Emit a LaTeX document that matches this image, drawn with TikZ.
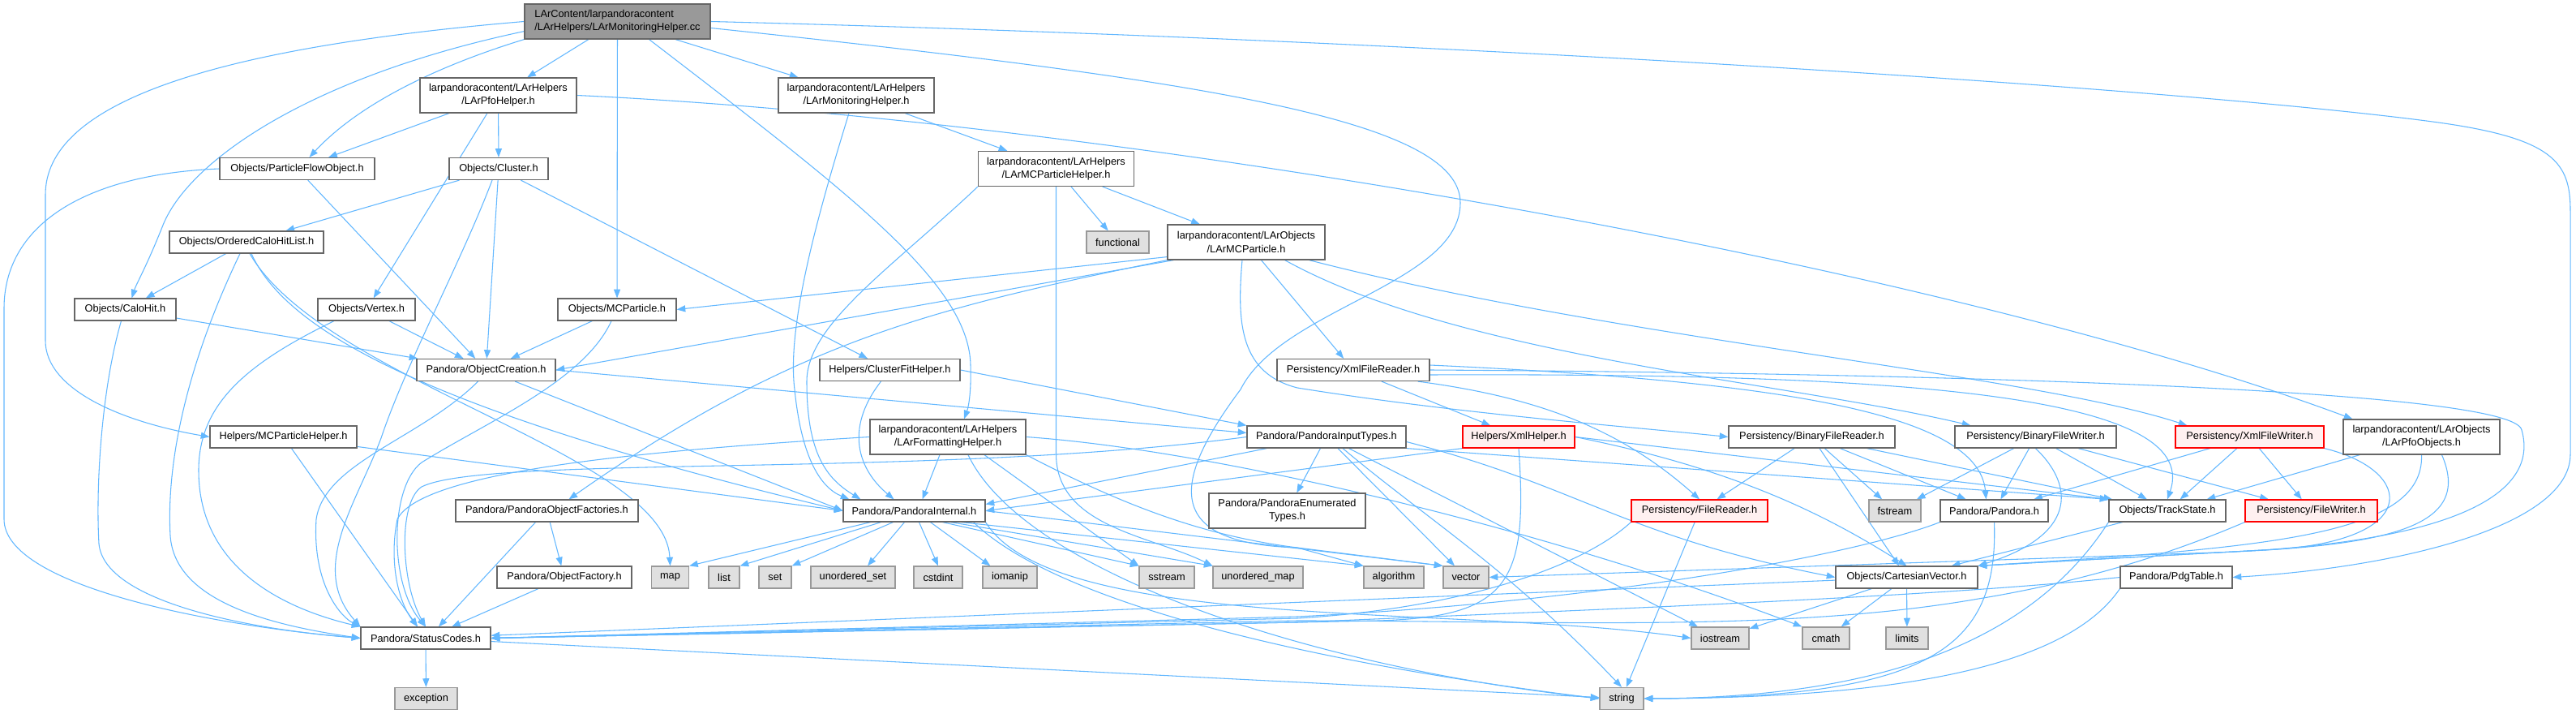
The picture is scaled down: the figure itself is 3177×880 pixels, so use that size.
\documentclass[tikz,border=0pt]{standalone}
\usepackage{fontspec}
\setmainfont{Liberation Sans}
\usetikzlibrary{arrows.meta,calc}
\definecolor{edgec}{HTML}{63B8FF}
\definecolor{nodeb}{HTML}{666666}
\definecolor{extb}{HTML}{999999}
\definecolor{extf}{HTML}{E0E0E0}
\definecolor{mainf}{HTML}{999999}
\definecolor{redb}{HTML}{FF0000}
\definecolor{redf}{HTML}{FFF0F0}
\pgfdeclarelayer{bg}
\pgfsetlayers{bg,main}
\newcommand\nfont{\fontsize{9.6}{12.2}\selectfont}
\tikzset{
 bx/.style={draw=nodeb, fill=white, line width=0.9pt, minimum height=20.25pt, minimum width=#1*0.75pt, inner sep=1pt, font=\nfont},
 bx2/.style={bx=#1, minimum height=32.25pt, align=center},
 ex/.style={bx=#1, draw=extb, fill=extf},
 rd/.style={bx=#1, draw=redb, fill=redf},
 lnk/.style={draw=edgec, line width=0.8pt, -{Triangle[length=8pt,width=6pt]}},
}
\begin{document}
\begin{tikzpicture}[x=0.75pt,y=-0.75pt]
\useasboundingbox (0,0) rectangle (3177,880);
% rank 0-1
\node[bx2=229, fill=mainf, align=left] (src) at (761.5,26.5) {LArContent/larpandoracontent\\/LArHelpers/LArMonitoringHelper.cc};
\node[bx2=193] (pfoh) at (614.5,117.5) {larpandoracontent/LArHelpers\\/LArPfoHelper.h};
\node[bx2=192] (monh) at (1056,117.5) {larpandoracontent/LArHelpers\\/LArMonitoringHelper.h};
% rank 2
\node[bx=191] (pfo) at (366.5,208) {Objects/ParticleFlowObject.h};
\node[bx=122] (clus) at (615,208) {Objects/Cluster.h};
\node[bx2=192] (mcph) at (1302.5,208) {larpandoracontent/LArHelpers\\/LArMCParticleHelper.h};
% rank 3
\node[bx=190] (ochl) at (304,298.5) {Objects/OrderedCaloHitList.h};
\node[ex=77] (func) at (1378.5,298.5) {functional};
\node[bx2=194] (larmc) at (1537,298.5) {larpandoracontent/LArObjects\\/LArMCParticle.h};
% rank 4
\node[bx=125] (calo) at (154.5,381.5) {Objects/CaloHit.h};
\node[bx=120] (vtx) at (452,381.5) {Objects/Vertex.h};
\node[bx=146] (mcp) at (761,381.5) {Objects/MCParticle.h};
% rank 5
\node[bx=171] (objc) at (599.5,456) {Pandora/ObjectCreation.h};
\node[bx=173] (cfh) at (1097.5,456) {Helpers/ClusterFitHelper.h};
\node[bx=188] (xfr) at (1669,456) {Persistency/XmlFileReader.h};
% rank 6
\node[bx=181] (mchelp) at (349.5,538.5) {Helpers/MCParticleHelper.h};
\node[bx2=192] (fmt) at (1169,538.5) {larpandoracontent/LArHelpers\\/LArFormattingHelper.h};
\node[bx=196] (pit) at (1636,538.5) {Pandora/PandoraInputTypes.h};
\node[rd=138] (xmlh) at (1873,538.5) {Helpers/XmlHelper.h};
\node[bx=205] (bfr) at (2234.5,538.5) {Persistency/BinaryFileReader.h};
\node[bx=199] (bfw) at (2510.5,538.5) {Persistency/BinaryFileWriter.h};
\node[rd=183] (xfw) at (2774.5,538.5) {Persistency/XmlFileWriter.h};
\node[bx2=193] (pfoobj) at (2986.5,538.5) {larpandoracontent/LArObjects\\/LArPfoObjects.h};
% rank 7
\node[bx=225] (pof) at (674.5,629.5) {Pandora/PandoraObjectFactories.h};
\node[bx=175] (pint) at (1127.5,629.5) {Pandora/PandoraInternal.h};
\node[bx2=193] (pet) at (1587.5,629.5) {Pandora/PandoraEnumerated\\Types.h};
\node[rd=168] (fr) at (2096,629.5) {Persistency/FileReader.h};
\node[ex=64] (fstr) at (2337,629.5) {fstream};
\node[bx=133] (pandora) at (2459.5,629.5) {Pandora/Pandora.h};
\node[bx=144] (ts) at (2673,629.5) {Objects/TrackState.h};
\node[rd=163] (fw) at (2850.5,629.5) {Persistency/FileWriter.h};
% rank 8
\node[bx=166] (of) at (696,711.5) {Pandora/ObjectFactory.h};
\node[ex=46] (nmap) at (826.5,711.5) {map};
\node[ex=38] (nlist) at (893,711.5) {list};
\node[ex=40] (nset) at (956,711.5) {set};
\node[ex=104] (uset) at (1052,711.5) {unordered\_set};
\node[ex=60] (cstd) at (1157,711.5) {cstdint};
\node[ex=67] (iom) at (1245.5,711.5) {iomanip};
\node[ex=68] (sstr) at (1439,711.5) {sstream};
\node[ex=111] (umap) at (1551.5,711.5) {unordered\_map};
\node[ex=74] (algo) at (1719,711.5) {algorithm};
\node[ex=56] (vect) at (1808,711.5) {vector};
\node[bx=175] (cv) at (2351.5,711.5) {Objects/CartesianVector.h};
\node[bx=138] (pdg) at (2684,711.5) {Pandora/PdgTable.h};
% rank 9-10
\node[bx=160] (sc) at (525,786.5) {Pandora/StatusCodes.h};
\node[ex=71] (iost) at (2121.5,786.5) {iostream};
\node[ex=58] (cmth) at (2252,786.5) {cmath};
\node[ex=52] (lim) at (2352,786.5) {limits};
\node[ex=77] (exc) at (525.5,861) {exception};
\node[ex=54] (strg) at (2000,861) {string};

\begin{pgfonlayer}{bg}
\fill[white] (0,0) rectangle (3177,880);
% main source
\draw[lnk] (src) -- (monh);
\draw[lnk] (src) -- (pfoh);
\draw[lnk] (src) -- (mcp);
\draw[lnk] (src.west) .. controls (250,60) and (56,130) .. (56,240) -- (56,420) .. controls (56,480) and (150,520) .. (mchelp.west);
\draw[lnk] ($(src.south west)+(0,-10)$) .. controls (380,95) and (230,200) .. (200,280) .. controls (180,330) and (168,350) .. ($(calo.north)+(8,0)$);
\draw[lnk] (src.south west) .. controls (560,75) and (450,120) .. ($(pfo.north)+(15,0)$);
\draw[lnk] ($(src.south east)+(-76,0)$) .. controls (1050,240) and (1195,350) .. (1197,450) .. controls (1198,480) and (1195,500) .. ($(fmt.north)+(20,0)$);
\draw[lnk] (src.east) .. controls (1800,50) and (2700,110) .. (3000,150) .. controls (3150,170) and (3170,200) .. (3170,260) -- (3170,560) .. controls (3170,650) and (2950,700) .. (pdg.east);
\draw[lnk] ($(src.east)+(0,8)$) .. controls (1500,100) and (1801,150) .. (1801,250) .. controls (1801,350) and (1580,380) .. (1530,480) .. controls (1440,600) and (1440,670) .. (1600,675) -- (vect.north west);
% LArPfoHelper
\draw[lnk] (pfoh) -- (pfo);
\draw[lnk] (pfoh) -- (clus);
\draw[lnk] (pfoh) -- (vtx);
\draw[lnk] (pfoh.east) .. controls (1400,150) and (2400,330) .. ($(pfoobj.north west)+(12,0)$);
% LArMonitoringHelper.h
\draw[lnk] (monh) -- (mcph);
\draw[lnk] ($(monh.south)+(-9,0)$) .. controls (1010,260) and (970,400) .. (980,480) .. controls (988,560) and (1010,600) .. ($(pint.north west)+(8,0)$);
% ParticleFlowObject
\draw[lnk] (pfo) -- (objc);
\draw[lnk] (pfo.west) .. controls (100,215) and (5,280) .. (5,380) -- (5,640) .. controls (5,720) and (250,770) .. (sc.west);
% Cluster
\draw[lnk] (clus) -- (ochl);
\draw[lnk] (clus) -- (objc);
\draw[lnk] (clus) -- (cfh);
\draw[lnk] ($(clus.south)+(-8,0)$) .. controls (570,320) and (500,450) .. (470,540) .. controls (440,620) and (380,700) .. (sc.north west);
% LArMCParticleHelper
\draw[lnk] (mcph) -- (func);
\draw[lnk] (mcph) -- (larmc);
\draw[lnk] (mcph.south west) .. controls (1100,330) and (995,400) .. (995,470) .. controls (995,560) and (1020,590) .. ($(pint.north west)+(22,0)$);
\draw[lnk] (mcph.south) -- (1302.5,560) .. controls (1303,650) and (1420,660) .. (umap.north west);
% OrderedCaloHitList
\draw[lnk] (ochl) -- (calo);
\draw[lnk] ($(ochl.south)+(-8,0)$) .. controls (230,450) and (205,570) .. (210,660) .. controls (215,740) and (330,770) .. (sc.west);
\draw[lnk] ($(ochl.south)+(6,0)$) .. controls (350,400) and (500,500) .. (pint.west);
\draw[lnk] ($(ochl.south)+(4,0)$) .. controls (400,470) and (820,560) .. (nmap.north);
% LArMCParticle
\draw[lnk] ($(larmc.south west)+(0,-4)$) -- (mcp.east);
\draw[lnk] ($(larmc.south west)+(8,0)$) -- (objc.east);
\draw[lnk] (larmc.south west) .. controls (1150,380) and (980,420) .. ($(pof.north)+(27,0)$);
\draw[lnk] (larmc) -- (xfr);
\draw[lnk] ($(larmc.south)+(-5,0)$) .. controls (1525,400) and (1530,460) .. (1600,478) .. controls (1800,510) and (2000,525) .. (bfr.west);
\draw[lnk] ($(larmc.south east)+(-50,0)$) .. controls (1800,440) and (2200,470) .. ($(bfw.north west)+(20,0)$);
\draw[lnk] ($(larmc.south east)+(-20,0)$) .. controls (2000,420) and (2500,460) .. ($(xfw.north west)+(15,0)$);
% CaloHit, Vertex, MCParticle
\draw[lnk] (calo) -- (objc);
\draw[lnk] ($(calo.south)+(-5,0)$) .. controls (125,480) and (118,600) .. (122,670) .. controls (128,740) and (300,775) .. (sc.west);
\draw[lnk] (vtx) -- (objc);
\draw[lnk] ($(vtx.south)+(-40,0)$) .. controls (300,450) and (245,500) .. (245,580) .. controls (245,700) and (350,750) .. (sc.north west);
\draw[lnk] (mcp) -- (objc);
\draw[lnk] ($(mcp.south)+(-7,0)$) .. controls (720,470) and (600,520) .. (520,570) .. controls (480,600) and (480,720) .. (sc.north);
% ObjectCreation
\draw[lnk] (objc.east) -- ($(pit.west)+(0,-5)$);
\draw[lnk] (objc) -- (pint.west);
\draw[lnk] ($(objc.south)+(-10,0)$) .. controls (520,540) and (400,570) .. (390,640) .. controls (385,720) and (420,760) .. (sc.north west);
% ClusterFitHelper
\draw[lnk] ($(cfh.south)+(-11,0)$) .. controls (1040,530) and (1060,580) .. ($(pint.north)+(-25,0)$);
\draw[lnk] (cfh.east) -- (pit.north west);
% XmlFileReader
\draw[lnk] (xfr) -- (xmlh);
\draw[lnk] ($(xfr.south east)+(-15,0)$) .. controls (1900,490) and (2000,530) .. (fr.north);
\draw[lnk] ($(xfr.east)+(0,-6)$) .. controls (2200,470) and (2440,510) .. ($(pandora.north)+(-10,0)$);
\draw[lnk] ($(xfr.east)+(0,6)$) .. controls (2300,460) and (2720,480) .. (ts.north);
\draw[lnk] (xfr.east) .. controls (2400,460) and (3100,480) .. (3110,530) .. controls (3130,600) and (3050,660) .. (2790,678) -- (cv.north east);
% MCParticleHelper
\draw[lnk] (mchelp) -- (pint.west);
\draw[lnk] (mchelp) -- (sc);
% LArFormattingHelper
\draw[lnk] ($(fmt.south)+(-10,0)$) -- ($(pint.north)+(10,0)$);
\draw[lnk] (fmt.west) .. controls (800,555) and (520,580) .. (490,640) .. controls (480,690) and (490,740) .. ($(sc.north)+(-10,0)$);
\draw[lnk] ($(fmt.south)+(45,0)$) -- (sstr.north west);
\draw[lnk] ($(fmt.south)+(25,0)$) .. controls (1260,700) and (1600,820) .. (strg.west);
\draw[lnk] (fmt.east) .. controls (1500,555) and (1900,650) .. (cmth.north west);
\draw[lnk] (fmt.south east) .. controls (1380,620) and (1480,660) .. (1600,675) -- (algo.north west);
% PandoraInputTypes
\draw[lnk] (pit) -- (pet);
\draw[lnk] ($(pit.south west)+(25,0)$) -- ($(pint.east)+(0,-8)$);
\draw[lnk] (pit.west) .. controls (1150,590) and (600,560) .. (520,600) .. controls (490,620) and (495,720) .. (sc.north);
\draw[lnk] (pit) -- (vect);
\draw[lnk] ($(pit.south)+(20,0)$) .. controls (1760,640) and (1860,700) .. (strg.north);
\draw[lnk] (pit) -- (iost);
\draw[lnk] ($(pit.east)+(0,6)$) .. controls (1950,600) and (2000,660) .. (cv.west);
\draw[lnk] (pit.south east) -- (ts.north west);
% XmlHelper
\draw[lnk] (xmlh.south west) -- (pint.east);
\draw[lnk] (xmlh.south) .. controls (1885,720) and (1860,760) .. (1700,765) -- (sc.east);
\draw[lnk] (xmlh.east) .. controls (2150,580) and (2260,640) .. (cv.north);
\draw[lnk] (xmlh.east) -- (ts.north west);
% BinaryFileReader
\draw[lnk] (bfr) -- (fr);
\draw[lnk] (bfr) -- (fstr);
\draw[lnk] (bfr) -- (pandora);
\draw[lnk] (bfr) -- (ts);
\draw[lnk] (bfr) -- (cv);
% BinaryFileWriter
\draw[lnk] (bfw) -- (fstr);
\draw[lnk] (bfw) -- (pandora);
\draw[lnk] (bfw) -- (ts);
\draw[lnk] (bfw) -- (fw);
\draw[lnk] (bfw.south) .. controls (2560,600) and (2560,660) .. (cv.north east);
% XmlFileWriter
\draw[lnk] (xfw) -- (pandora);
\draw[lnk] (xfw) -- (ts);
\draw[lnk] (xfw) -- (fw);
\draw[lnk] (xfw.south east) .. controls (2980,580) and (2990,670) .. (2790,678) -- (cv.north east);
% LArPfoObjects
\draw[lnk] (pfoobj) -- (ts);
\draw[lnk] (pfoobj.south) .. controls (2990,660) and (2800,675) .. (cv.north east);
\draw[lnk] ($(pfoobj.south)+(25,0)$) .. controls (3050,650) and (2950,675) .. (2700,682) -- (vect.east);
% PandoraObjectFactories, ObjectFactory
\draw[lnk] (pof) -- (of);
\draw[lnk] ($(pof.south)+(-14,0)$) -- ($(sc.north)+(16,0)$);
\draw[lnk] (of) -- (sc);
% PandoraInternal
\draw[lnk] ($(pint.south)+(-54,0)$) -- (nmap.north east);
\draw[lnk] ($(pint.south)+(-41,0)$) -- (nlist.north east);
\draw[lnk] ($(pint.south)+(-26,0)$) -- (nset.north east);
\draw[lnk] ($(pint.south)+(-12,0)$) -- ($(uset.north)+(18,0)$);
\draw[lnk] ($(pint.south)+(6,0)$) -- (cstd.north);
\draw[lnk] ($(pint.south)+(20,0)$) -- ($(iom.north west)+(10,0)$);
\draw[lnk] ($(pint.south)+(35,0)$) -- (sstr.north west);
\draw[lnk] ($(pint.south)+(45,0)$) -- (umap.north west);
\draw[lnk] ($(pint.south east)+(-30,0)$) -- (algo.north west);
\draw[lnk] (pint.east) -- (vect.north west);
\draw[lnk] ($(pint.south east)+(-15,0)$) .. controls (1300,740) and (1600,815) .. (strg.west);
\draw[lnk] (pint.south east) .. controls (1300,780) and (1800,745) .. (iost.west);
% FileReader, FileWriter, Pandora, TrackState
\draw[lnk] (fr) -- (strg);
\draw[lnk] (fr.south west) .. controls (1950,700) and (1800,750) .. (1600,762) -- (sc.east);
\draw[lnk] (fw.south west) .. controls (2660,690) and (2550,720) .. (2440,738) .. controls (2200,780) and (1900,765) .. (1600,765) -- (sc.east);
\draw[lnk] (pandora.south west) .. controls (2300,680) and (2000,740) .. (1600,760) -- (sc.east);
\draw[lnk] (pandora.south) .. controls (2465,800) and (2380,860) .. (strg.east);
\draw[lnk] (ts) -- (cv);
\draw[lnk] (ts.south west) .. controls (2500,800) and (2300,860) .. (strg.east);
% CartesianVector
\draw[lnk] (cv) -- (sc);
\draw[lnk] (cv) -- (iost);
\draw[lnk] (cv) -- (cmth);
\draw[lnk] (cv) -- (lim);
% PdgTable
\draw[lnk] (pdg.west) .. controls (2400,735) and (2000,750) .. (1600,767) -- (sc.east);
\draw[lnk] (pdg.south west) .. controls (2550,820) and (2350,860) .. (strg.east);
% StatusCodes
\draw[lnk] (sc) -- (exc);
\draw[lnk] (sc) -- (strg);
\end{pgfonlayer}
\end{tikzpicture}
\end{document}
